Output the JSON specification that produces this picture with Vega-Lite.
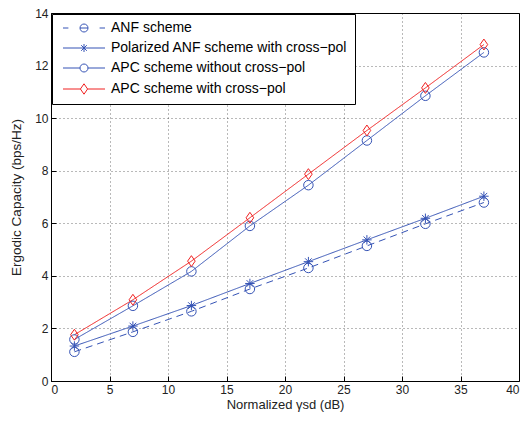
{
  "$schema": "https://vega.github.io/schema/vega-lite/v6.json",
  "width": 468,
  "height": 368,
  "autosize": "none",
  "padding": {"left": 51, "top": 13, "right": 5, "bottom": 44},
  "config": {
    "font": "Liberation Sans",
    "view": {"stroke": "black", "strokeWidth": 1},
    "axis": {
      "domain": false,
      "grid": true,
      "gridDash": [1, 3],
      "gridColor": "#000000",
      "gridOpacity": 0.55,
      "tickColor": "#000000",
      "tickSize": -5,
      "labelPadding": 8,
      "labelFont": "Liberation Sans",
      "labelFontSize": 12,
      "labelColor": "#222222",
      "titleFont": "Liberation Sans",
      "titleFontSize": 13,
      "titleFontWeight": "normal",
      "titleColor": "#222222"
    }
  },
  "data": {
    "values": [
      {"series": "ANF scheme", "x": 2, "y": 1.11},
      {"series": "ANF scheme", "x": 7, "y": 1.87},
      {"series": "ANF scheme", "x": 12, "y": 2.65},
      {"series": "ANF scheme", "x": 17, "y": 3.5},
      {"series": "ANF scheme", "x": 22, "y": 4.3},
      {"series": "ANF scheme", "x": 27, "y": 5.14},
      {"series": "ANF scheme", "x": 32, "y": 5.98},
      {"series": "ANF scheme", "x": 37, "y": 6.79},
      {"series": "Polarized ANF scheme with cross−pol", "x": 2, "y": 1.33},
      {"series": "Polarized ANF scheme with cross−pol", "x": 7, "y": 2.09},
      {"series": "Polarized ANF scheme with cross−pol", "x": 12, "y": 2.87},
      {"series": "Polarized ANF scheme with cross−pol", "x": 17, "y": 3.71},
      {"series": "Polarized ANF scheme with cross−pol", "x": 22, "y": 4.54},
      {"series": "Polarized ANF scheme with cross−pol", "x": 27, "y": 5.37},
      {"series": "Polarized ANF scheme with cross−pol", "x": 32, "y": 6.19},
      {"series": "Polarized ANF scheme with cross−pol", "x": 37, "y": 7.03},
      {"series": "APC scheme without cross−pol", "x": 2, "y": 1.58},
      {"series": "APC scheme without cross−pol", "x": 7, "y": 2.86},
      {"series": "APC scheme without cross−pol", "x": 12, "y": 4.17},
      {"series": "APC scheme without cross−pol", "x": 17, "y": 5.9},
      {"series": "APC scheme without cross−pol", "x": 22, "y": 7.45},
      {"series": "APC scheme without cross−pol", "x": 27, "y": 9.15},
      {"series": "APC scheme without cross−pol", "x": 32, "y": 10.85},
      {"series": "APC scheme without cross−pol", "x": 37, "y": 12.5},
      {"series": "APC scheme with cross−pol", "x": 2, "y": 1.76},
      {"series": "APC scheme with cross−pol", "x": 7, "y": 3.09},
      {"series": "APC scheme with cross−pol", "x": 12, "y": 4.56},
      {"series": "APC scheme with cross−pol", "x": 17, "y": 6.21},
      {"series": "APC scheme with cross−pol", "x": 22, "y": 7.87},
      {"series": "APC scheme with cross−pol", "x": 27, "y": 9.53},
      {"series": "APC scheme with cross−pol", "x": 32, "y": 11.15},
      {"series": "APC scheme with cross−pol", "x": 37, "y": 12.8}
    ]
  },
  "encoding": {
    "x": {
      "field": "x",
      "type": "quantitative",
      "scale": {"domain": [0, 40], "nice": false},
      "axis": {"values": [0, 5, 10, 15, 20, 25, 30, 35, 40], "title": "Normalized γsd (dB)", "titlePadding": 3}
    },
    "y": {
      "field": "y",
      "type": "quantitative",
      "scale": {"domain": [0, 14], "nice": false},
      "axis": {"values": [0, 2, 4, 6, 8, 10, 12, 14], "title": "Ergodic Capacity (bps/Hz)", "titleFontSize": 13.5, "titlePadding": 11}
    }
  },
  "layer": [
    {
      "mark": {"type": "line", "strokeWidth": 1},
      "encoding": {
        "color": {
          "field": "series",
          "scale": {
            "domain": ["ANF scheme", "Polarized ANF scheme with cross−pol", "APC scheme without cross−pol", "APC scheme with cross−pol"],
            "range": ["#3553b5", "#3553b5", "#3553b5", "#f02020"]
          },
          "legend": null
        },
        "strokeDash": {
          "field": "series",
          "scale": {
            "domain": ["ANF scheme", "Polarized ANF scheme with cross−pol", "APC scheme without cross−pol", "APC scheme with cross−pol"],
            "range": [[7, 5], [1, 0], [1, 0], [1, 0]]
          },
          "legend": null
        }
      }
    },
    {
      "mark": {"type": "point", "filled": false, "size": 90, "strokeWidth": 1, "opacity": 1},
      "encoding": {
        "color": {
          "field": "series",
          "scale": {
            "domain": ["ANF scheme", "Polarized ANF scheme with cross−pol", "APC scheme without cross−pol", "APC scheme with cross−pol"],
            "range": ["#3553b5", "#3553b5", "#3553b5", "#f02020"]
          },
          "legend": null
        },
        "shape": {
          "field": "series",
          "scale": {
            "domain": ["ANF scheme", "Polarized ANF scheme with cross−pol", "APC scheme without cross−pol", "APC scheme with cross−pol"],
            "range": ["circle", "M-1,0L1,0M0,-1L0,1M-0.7,-0.7L0.7,0.7M-0.7,0.7L0.7,-0.7", "circle", "M-0.8,0L0,-1.15L0.8,0L0,1.15Z"]
          },
          "legend": null
        }
      }
    },
    {
      "transform": [{"filter": "false"}],
      "mark": {"type": "point", "filled": false, "strokeWidth": 1, "opacity": 1},
      "encoding": {
        "color": {
          "field": "series",
          "scale": {
            "domain": ["ANF scheme", "Polarized ANF scheme with cross−pol", "APC scheme without cross−pol", "APC scheme with cross−pol"],
            "range": ["#3553b5", "#3553b5", "#3553b5", "#f02020"]
          },
          "legend": {
            "title": null, "orient": "top-left", "offset": 1, "fillColor": "white", "strokeColor": "black",
            "padding": 7, "labelFont": "Liberation Sans", "labelFontSize": 14, "labelColor": "black", "labelLimit": 400,
            "symbolSize": 64, "symbolStrokeWidth": 1, "symbolOffset": 18, "labelOffset": 20, "rowPadding": 6, "symbolOpacity": 1
          }
        },
        "shape": {
          "field": "series",
          "scale": {
            "domain": ["ANF scheme", "Polarized ANF scheme with cross−pol", "APC scheme without cross−pol", "APC scheme with cross−pol"],
            "range": [
              "M-5.25,0L-3.9,0M-1,0L1,0M3.9,0L5.25,0M-1,0A1,1 0 1,0 1,0A1,1 0 1,0 -1,0",
              "M-5.25,0L5.25,0M0,-1L0,1M-0.7,-0.7L0.7,0.7M-0.7,0.7L0.7,-0.7",
              "M-5.25,0L-1,0M1,0L5.25,0M-1,0A1,1 0 1,0 1,0A1,1 0 1,0 -1,0",
              "M-5.25,0L-0.9,0M0.9,0L5.25,0M-0.9,0L0,-1.3L0.9,0L0,1.3Z"
            ]
          },
          "legend": {
            "title": null, "orient": "top-left", "offset": 1, "fillColor": "white", "strokeColor": "black",
            "padding": 7, "labelFont": "Liberation Sans", "labelFontSize": 14, "labelColor": "black", "labelLimit": 400,
            "symbolSize": 64, "symbolStrokeWidth": 1, "symbolOffset": 18, "labelOffset": 20, "rowPadding": 6, "symbolOpacity": 1
          }
        }
      }
    }
  ],
  "resolve": {"scale": {"color": "independent", "shape": "independent", "strokeDash": "independent"}}
}
